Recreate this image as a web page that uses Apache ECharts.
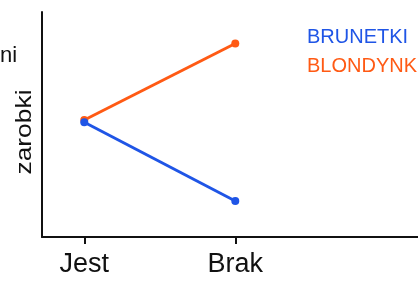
<!DOCTYPE html>
<html>
<head>
<meta charset="utf-8">
<script src="https://cdn.jsdelivr.net/npm/echarts@6/dist/echarts.min.js"></script>
<style>
  html, body { margin: 0; padding: 0; background: #fff; }
  #chart { width: 418px; height: 286px; }
</style>
</head>
<body>
<div id="chart"></div>
<script>
// dane
var categories = ['Jest', 'Brak'];
var brunetki = [51, 16];
var blondynki = [52, 86];

var chart = echarts.init(document.getElementById('chart'), null, { renderer: 'canvas' });

function toPoints(values) {
    return values.map(function (v, i) { return [i, v]; });
}

var option = {
    backgroundColor: '#fff',
    animation: false,
    grid: { left: 42, right: 0, top: 12, bottom: 49 },
    legend: {
        orient: 'vertical',
        left: 302,
        top: 27,
        padding: 0,
        icon: 'none',
        itemWidth: 0,
        itemGap: 9,
        selectedMode: false,
        textStyle: { fontSize: 20, fontFamily: 'Liberation Sans' },
        data: [
            { name: 'BRUNETKI', textStyle: { color: '#1f55e6' } },
            { name: 'BLONDYNKI', textStyle: { color: '#ff5a14' } }
        ]
    },
    xAxis: {
        type: 'value',
        min: -0.28,
        max: 2.21,
        splitLine: { show: false },
        axisLine: { lineStyle: { color: '#111', width: 2 } },
        axisTick: { show: true, length: 7, customValues: [0, 1], lineStyle: { color: '#111', width: 2 } },
        axisLabel: {
            customValues: [0, 1],
            margin: 14,
            fontSize: 27,
            color: '#111',
            fontFamily: 'Liberation Sans',
            formatter: function (v) { return categories[Math.round(v)]; }
        }
    },
    yAxis: {
        type: 'value',
        min: 0,
        max: 100,
        splitLine: { show: false },
        axisTick: { show: false },
        axisLabel: { show: false },
        axisLine: { show: true, onZero: false, lineStyle: { color: '#111', width: 2 } }
    },
    graphic: [
        {
            type: 'text', left: 0, top: 45,
            style: { text: 'ni', fontSize: 22, fill: '#111', fontFamily: 'Liberation Sans' }
        },
        {
            type: 'text', x: 25, y: 132, rotation: Math.PI / 2, scaleX: 1.2,
            style: {
                text: 'zarobki', fontSize: 22, fill: '#111', fontFamily: 'Liberation Sans',
                align: 'center', verticalAlign: 'middle'
            }
        }
    ],
    series: [
        {
            name: 'BLONDYNKI',
            type: 'line',
            data: toPoints(blondynki),
            color: '#ff5a14',
            symbol: 'circle',
            symbolSize: 8,
            lineStyle: { width: 3 }
        },
        {
            name: 'BRUNETKI',
            type: 'line',
            data: toPoints(brunetki),
            color: '#1f55e6',
            symbol: 'circle',
            symbolSize: 8,
            lineStyle: { width: 3 }
        }
    ]
};

chart.setOption(option);
</script>
</body>
</html>
